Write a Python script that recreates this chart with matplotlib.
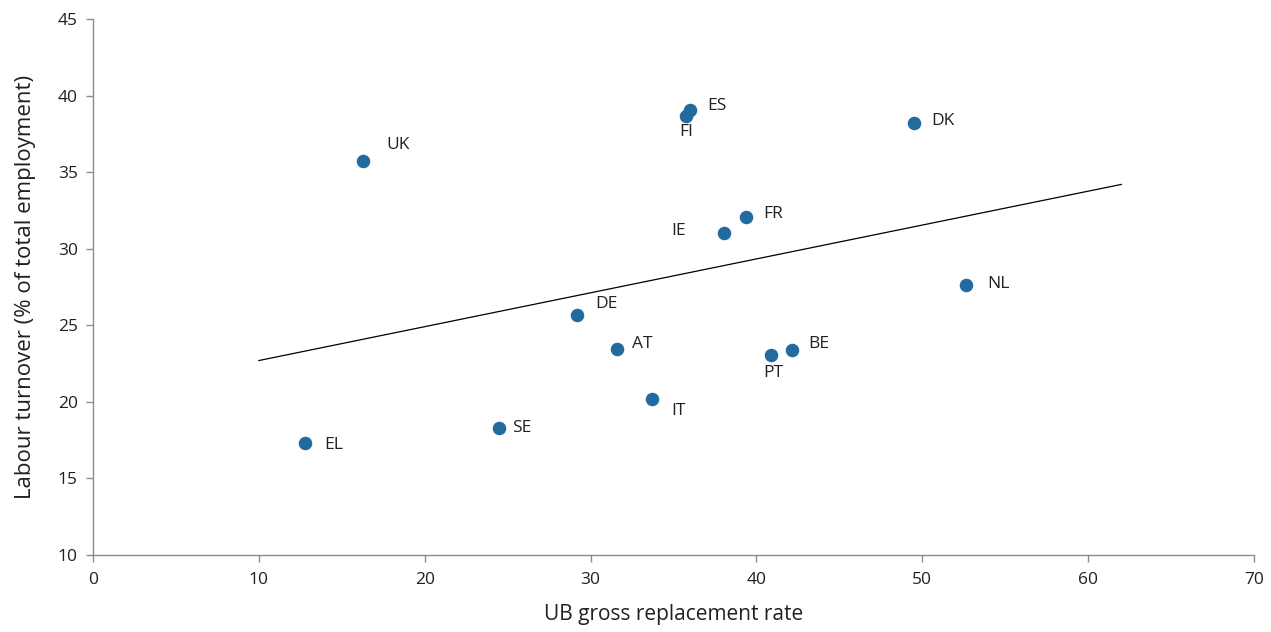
import matplotlib.pyplot as plt

plt.rcParams['font.family'] = ['Open Sans', 'DejaVu Sans']

# data
countries = ['UK', 'ES', 'FI', 'DK', 'FR', 'IE', 'NL', 'DE', 'AT', 'BE', 'PT', 'IT', 'SE', 'EL']
replacement = [16.3, 36.0, 35.75, 49.5, 39.4, 38.05, 52.65, 29.2, 31.6, 42.15, 40.85, 33.7, 24.45, 12.8]
turnover = [35.7, 39.05, 38.7, 38.2, 32.1, 31.0, 27.6, 25.65, 23.45, 23.4, 23.05, 20.2, 18.3, 17.3]

# trend line end points
trend_x = [10.0, 62.0]
trend_y = [22.7, 34.2]

# label offsets in pixels (dx, dy, ha)
offsets = {
    'UK': (23, 16, 'left'), 'ES': (17, 4, 'left'), 'FI': (0, -16, 'center'),
    'DK': (17, 2, 'left'), 'FR': (17, 3, 'left'), 'IE': (-38, 2, 'right'),
    'NL': (21, 1, 'left'), 'DE': (18, 11, 'left'), 'AT': (15, 5, 'left'),
    'BE': (16, 6, 'left'), 'PT': (3, -18, 'center'), 'IT': (19, -12, 'left'),
    'SE': (14, 0, 'left'), 'EL': (19, -2, 'left'),
}

txt = '#231f20'
grey = '#8c8c8c'

fig = plt.figure(figsize=(12.71, 6.32), dpi=100)
ax = fig.add_axes([0.0732, 0.1218, 0.9134, 0.8481])

ax.plot(trend_x, trend_y, color='black', lw=0.9, zorder=2)
ax.scatter(replacement, turnover, s=95, color='#236a9e', zorder=3, linewidths=0)

for c, x, y in zip(countries, replacement, turnover):
    dx, dy, ha = offsets[c]
    ax.annotate(c, (x, y), xytext=(dx, dy), textcoords='offset pixels',
                ha=ha, va='center', fontsize=12.5, color=txt)

ax.set_xlim(0, 70)
ax.set_ylim(10, 45)
ax.set_xticks(range(0, 71, 10))
ax.set_yticks(range(10, 46, 5))

for s in ['top', 'right']:
    ax.spines[s].set_visible(False)
for s in ['left', 'bottom']:
    ax.spines[s].set_color(grey)
    ax.spines[s].set_linewidth(1.0)

ax.tick_params(axis='both', colors=grey, labelcolor=txt, labelsize=12.5,
               length=5, width=1.0, direction='out')
ax.tick_params(axis='x', pad=7)
ax.tick_params(axis='y', pad=6)

ax.set_xlabel('UB gross replacement rate', fontsize=15, color=txt, labelpad=12)
ax.set_ylabel('Labour turnover (% of total employment)', fontsize=16, color=txt, labelpad=16)

fig.savefig('out.png', dpi=100)
